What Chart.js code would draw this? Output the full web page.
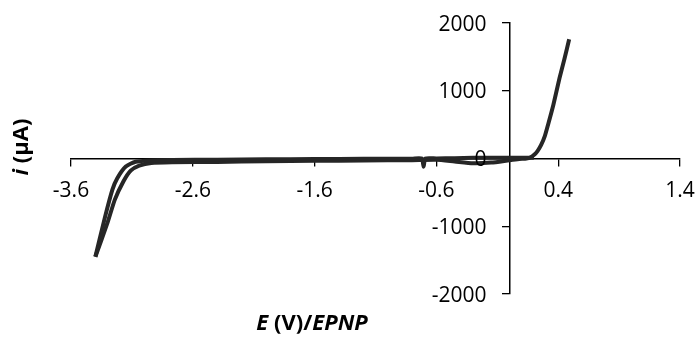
<!DOCTYPE html>
<html>
<head>
<meta charset="utf-8">
<script src="https://cdn.jsdelivr.net/npm/chart.js@4.4.1/dist/chart.umd.min.js"></script>
<style>
  html, body { margin: 0; padding: 0; background: #fff; }
  #wrap { width: 696px; height: 337px; position: relative; }
</style>
</head>
<body>
<div id="wrap"><canvas id="cv"></canvas></div>
<script>
// axis ticks
const xTicks = [-3.6, -2.6, -1.6, -0.6, 0.4, 1.4];
const yTicks = [-2000, -1000, 0, 1000, 2000];

// cathodic sweep (0.2 V -> -3.4 V), potential in V, current in µA
const sweepOutE = [0.20, 0.10, 0.00, -0.15, -0.30, -0.45, -0.60, -0.69, -0.705, -0.72, -0.80, -1.20, -1.60, -2.00, -2.40, -2.77, -2.95, -3.07, -3.15, -3.22, -3.26, -3.32, -3.40];
const sweepOutI = [10, 10, 10, 10, 10, 5, 0, 0, -120, 0, -2, -5, -8, -12, -18, -22, -28, -48, -118, -290, -459, -858, -1450];

// anodic sweep (-3.4 V -> 0.49 V)
const sweepBackE = [-3.40, -3.30, -3.24, -3.17, -3.11, -3.04, -2.94, -2.77, -2.40, -2.00, -1.60, -1.20, -0.80, -0.60, -0.45, -0.30, -0.15, 0.00, 0.08, 0.14, 0.17, 0.20, 0.23, 0.26, 0.29, 0.32, 0.36, 0.41, 0.45, 0.49];
const sweepBackI = [-1450, -947, -607, -340, -180, -105, -65, -55, -50, -42, -35, -30, -25, -20, -45, -70, -60, -25, -8, 0, 15, 50, 110, 200, 330, 520, 790, 1180, 1460, 1760];

const FONT = "'Open Sans', 'Liberation Sans', sans-serif";
const lineColor = '#262626';

const toPoints = (xs, ys) => xs.map((x, k) => ({ x: x, y: ys[k] }));

// tick labels and axis titles (titles mix italic and upright parts)
const axisText = {
    id: 'axisText',
    afterDraw(chart) {
        const ctx = chart.ctx;
        const xs = chart.scales.x;
        const ys = chart.scales.y;
        const y0 = ys.getPixelForValue(0);
        const x0 = xs.getPixelForValue(0);

        ctx.save();
        ctx.fillStyle = '#000';
        ctx.textBaseline = 'alphabetic';
        ctx.font = '21px ' + FONT;

        ctx.textAlign = 'center';
        xTicks.forEach(v => {
            ctx.fillText(v.toFixed(1), xs.getPixelForValue(v), y0 + 38);
        });
        ctx.textAlign = 'right';
        yTicks.forEach(v => {
            ctx.fillText(String(v), x0 - 23, ys.getPixelForValue(v) + 7.5);
        });

        const drawParts = (parts, cx, cy) => {
            let total = 0;
            parts.forEach(p => {
                ctx.font = p.font;
                p.w = ctx.measureText(p.text).width;
                total += p.w;
            });
            let x = cx - total / 2;
            parts.forEach(p => {
                ctx.font = p.font;
                ctx.fillText(p.text, x, cy);
                x += p.w;
            });
        };
        ctx.textAlign = 'left';
        ctx.textBaseline = 'middle';
        drawParts([
            { text: 'E', font: 'italic bold 22px ' + FONT },
            { text: ' (V)/', font: 'bold 22px ' + FONT },
            { text: 'EPNP', font: 'italic bold 22px ' + FONT }
        ], 312, 324);
        ctx.translate(22, 147);
        ctx.rotate(-Math.PI / 2);
        drawParts([
            { text: 'i', font: 'italic bold 22px ' + FONT },
            { text: ' (\u00B5A)', font: 'bold 22px ' + FONT }
        ], 0, 0);
        ctx.restore();
    }
};

new Chart(document.getElementById('cv'), {
    type: 'scatter',
    data: {
        datasets: [{
            label: 'cathodic',
            data: toPoints(sweepOutE, sweepOutI),
            showLine: true,
            borderColor: lineColor,
            borderWidth: 4,
            pointRadius: 0,
            tension: 0.2
        }, {
            label: 'anodic',
            data: toPoints(sweepBackE, sweepBackI),
            showLine: true,
            borderColor: lineColor,
            borderWidth: 4,
            pointRadius: 0,
            tension: 0.2
        }]
    },
    options: {
        responsive: true,
        maintainAspectRatio: false,
        animation: false,
        layout: { padding: { left: 71, right: 16, top: 23, bottom: 43 } },
        plugins: {
            legend: { display: false },
            tooltip: { enabled: false }
        },
        scales: {
            x: {
                type: 'linear',
                position: { y: 0 },
                min: -3.6,
                max: 1.4,
                afterBuildTicks: scale => { scale.ticks = xTicks.map(v => ({ value: v })); },
                grid: { drawOnChartArea: false, tickLength: 7, color: '#000', lineWidth: 1.3 },
                border: { display: true, color: '#000', width: 1.5 },
                ticks: { display: false }
            },
            y: {
                type: 'linear',
                position: { x: 0 },
                min: -2000,
                max: 2000,
                afterBuildTicks: scale => { scale.ticks = yTicks.map(v => ({ value: v })); },
                grid: { drawOnChartArea: false, tickLength: 7, color: '#000', lineWidth: 1.3 },
                border: { display: true, color: '#000', width: 1.5 },
                ticks: { display: false }
            }
        }
    },
    plugins: [axisText]
});
</script>
</body>
</html>
